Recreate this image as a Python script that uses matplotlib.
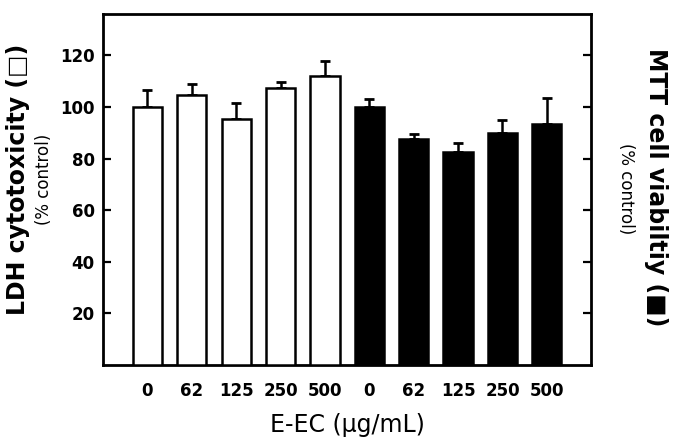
import numpy as np
import matplotlib.pyplot as plt

# E-EC doses (ug/mL), LDH (open bars) then MTT (filled bars)
doses = ["0", "62", "125", "250", "500"]
ldh_mean = [100, 104.5, 95.5, 107.5, 112]
ldh_err = [6.5, 4.5, 6, 2.3, 6]
mtt_mean = [100, 87.5, 82.5, 90, 93.5]
mtt_err = [3, 2, 3.5, 5, 10]

fig = plt.figure(figsize=(6.78, 4.43), dpi=100)
ax = fig.add_axes([0.152, 0.176, 0.72, 0.792])

n = len(doses)
x_ldh = np.arange(n)
x_mtt = np.arange(n) + n
w = 0.66

ax.bar(x_ldh, ldh_mean, width=w, color="white", edgecolor="black", linewidth=1.8, zorder=3)
ax.bar(x_mtt, mtt_mean, width=w, color="black", edgecolor="black", linewidth=1.8, zorder=3)

for xs, m, e in [(x_ldh, ldh_mean, ldh_err), (x_mtt, mtt_mean, mtt_err)]:
    ax.errorbar(xs, m, yerr=[np.zeros(n), e], fmt="none", ecolor="black",
                elinewidth=1.8, capsize=3.6, capthick=2.0, zorder=2)

ax.set_xlim(-1.0, 2 * n)
ax.set_ylim(0, 136)
ax.set_yticks([20, 40, 60, 80, 100, 120])
ax.set_xticks(np.concatenate([x_ldh, x_mtt]))
ax.set_xticklabels(doses + doses, fontsize=12, fontweight="bold")
for lab in ax.get_yticklabels():
    lab.set_fontweight("bold")
    lab.set_fontsize(12)

ax.tick_params(axis="y", direction="in", length=6, width=1.6, left=True, right=True,
               labelright=False, pad=6)
ax.tick_params(axis="x", length=0, pad=12)
for s in ax.spines.values():
    s.set_linewidth(2.0)

fig.text(0.5 * (0.152 + 0.872), 0.04, "E-EC (\u03bcg/mL)", ha="center", va="center",
         fontsize=17)
fig.text(0.026, 0.594, "LDH cytotoxicity (\u25a1)", rotation=90, ha="center", va="center",
         fontsize=17, fontweight="bold")
fig.text(0.065, 0.594, "(% control)", rotation=90, ha="center", va="center", fontsize=12)
fig.text(0.968, 0.578, "MTT cell viabiltiy (\u25a0)", rotation=-90, ha="center", va="center",
         fontsize=17, fontweight="bold")
fig.text(0.924, 0.575, "(% control)", rotation=-90, ha="center", va="center", fontsize=12)

fig.savefig("out.png", dpi=100)
